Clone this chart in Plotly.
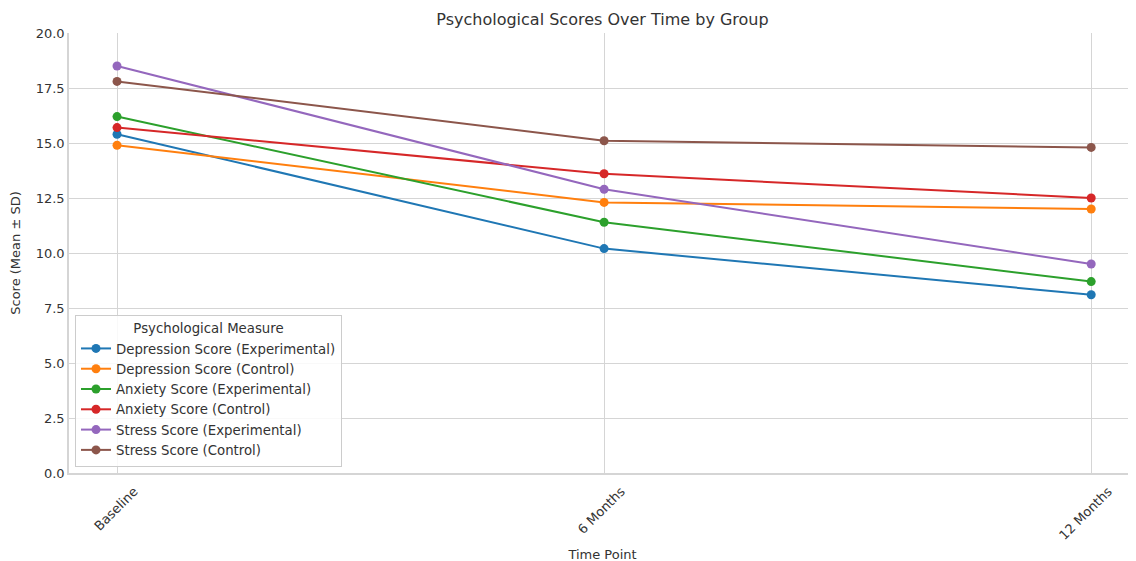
import plotly.graph_objects as go

time_points = ["Baseline", "6 Months", "12 Months"]
series_names = [
    "Depression Score (Experimental)",
    "Depression Score (Control)",
    "Anxiety Score (Experimental)",
    "Anxiety Score (Control)",
    "Stress Score (Experimental)",
    "Stress Score (Control)",
]
dep_exp = [15.4, 10.2, 8.1]
dep_ctl = [14.9, 12.3, 12.0]
anx_exp = [16.2, 11.4, 8.7]
anx_ctl = [15.7, 13.6, 12.5]
str_exp = [18.5, 12.9, 9.5]
str_ctl = [17.8, 15.1, 14.8]
y_ticks = [0.0, 2.5, 5.0, 7.5, 10.0, 12.5, 15.0, 17.5, 20.0]

colors = ["#1f77b4", "#ff7f0e", "#2ca02c", "#d62728", "#9467bd", "#8c564b"]
all_series = [dep_exp, dep_ctl, anx_exp, anx_ctl, str_exp, str_ctl]

x_idx = list(range(len(time_points)))

fig = go.Figure()
for name, vals, c in zip(series_names, all_series, colors):
    fig.add_trace(go.Scatter(
        x=x_idx, y=vals, name=name, mode="lines+markers",
        line=dict(color=c, width=2),
        marker=dict(color=c, size=9),
    ))

font_color = "#333333"
grid_color = "#d5d5d5"

W, H = 1136, 561
L, T, R, B = 61, 25, 8, 96

fig.update_layout(
    width=W, height=H,
    margin=dict(l=L, r=R, t=T, b=B, autoexpand=False),
    paper_bgcolor="white", plot_bgcolor="white",
    font=dict(family="DejaVu Sans", size=13, color=font_color),
    title=dict(text="Psychological Scores Over Time by Group",
               x=(L + (W - L - R) / 2) / W, xanchor="center",
               y=1 - 11 / H, yanchor="middle", font=dict(size=16, color=font_color)),
    xaxis=dict(
        tickmode="array", tickvals=x_idx, ticktext=time_points,
        range=[-0.0986, 2.092], tickangle=-45,
        ticklabelshift=17, ticklabelstandoff=4,
        showgrid=True, gridcolor=grid_color, gridwidth=1,
        showline=True, linecolor=grid_color, linewidth=1.5,
        zeroline=False, ticks="", tickfont=dict(size=13, color=font_color),
        title=dict(text="Time Point", font=dict(size=13, color=font_color), standoff=8),
    ),
    yaxis=dict(
        tickmode="array", tickvals=y_ticks,
        ticktext=[f"{v:.1f}" for v in y_ticks],
        range=[0, 20],
        showgrid=True, gridcolor=grid_color, gridwidth=1,
        showline=True, linecolor=grid_color, linewidth=1.5,
        zeroline=False, ticks="", tickfont=dict(size=13, color=font_color),
        title=dict(text="Score (Mean ± SD)", font=dict(size=13, color=font_color), standoff=12),
    ),
    legend=dict(
        x=6 / (W - L - R), y=6 / (H - T - B), xanchor="left", yanchor="bottom",
        bgcolor="rgba(255,255,255,0.85)", bordercolor="#cccccc", borderwidth=1,
        font=dict(size=13.3, color=font_color),
        title=dict(text="Psychological Measure", side="top center", font=dict(size=13.3, color=font_color)),
        tracegroupgap=0,
    ),
    showlegend=True,
)

fig.write_html("out.html")
